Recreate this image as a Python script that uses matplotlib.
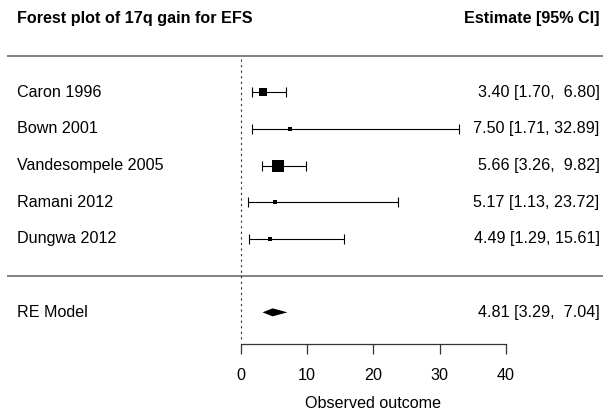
import matplotlib
matplotlib.use("Agg")
import matplotlib.pyplot as plt

plt.rcParams['font.family'] = ['Liberation Sans', 'DejaVu Sans']

# ---- data ----
studies = ["Caron 1996", "Bown 2001", "Vandesompele 2005", "Ramani 2012", "Dungwa 2012"]
est = [3.40, 7.50, 5.66, 5.17, 4.49]
lo = [1.70, 1.71, 3.26, 1.13, 1.29]
hi = [6.80, 32.89, 9.82, 23.72, 15.61]
re_label = "RE Model"
re_est, re_lo, re_hi = 4.81, 3.29, 7.04
xticks = [0, 10, 20, 30, 40]
title_left = "Forest plot of 17q gain for EFS"
title_right = "Estimate [95% CI]"
xlabel = "Observed outcome"

# ---- style ----
msizes = [6.3, 2.7, 8.2, 2.9, 3.2]
FS = 11.6

W, H = 603, 413
fig = plt.figure(figsize=(W / 100, H / 100), dpi=100)
ax = fig.add_axes([0, 0, 1, 1])

px_per_unit = (506 - 240.7) / 40.0
x0px = 240.7
ax.set_xlim(-x0px / px_per_unit, (W - x0px) / px_per_unit)
row_px = 36.675
def py(p):
    return 5 - (p - 92.3) / row_px
ax.set_ylim(py(H), py(0))

def px2x(p):
    return (p - x0px) / px_per_unit

ypos = [5, 4, 3, 2, 1]
for y, e, l, h, ms in zip(ypos, est, lo, hi, msizes):
    ax.errorbar([e], [y], xerr=[[e - l], [h - e]], fmt='none', ecolor='black',
                elinewidth=0.8, capsize=3.6, capthick=0.8)
    ax.plot([e], [y], marker='s', color='black', markersize=ms, markeredgewidth=0)

# RE diamond
dh = 4.0 / row_px
ax.fill([re_lo, re_est, re_hi, re_est], [-1, -1 + dh, -1, -1 - dh], color='black', lw=0)

# horizontal lines
xl = px2x(7)
xr = px2x(W + 5)
ax.plot([xl, xr], [6, 6], color='#606060', lw=1.1, solid_capstyle='butt')
ax.plot([xl, xr], [0, 0], color='#606060', lw=1.1, solid_capstyle='butt')

# vertical dotted reference line
ax.plot([0, 0], [py(59), py(341)], color='#333333', lw=0.8, linestyle=(0, (2.0, 3.0)))

# left labels & right estimates
xtext_l = px2x(17)
xtext_r = px2x(599.5)
for y, s, e, l, h in zip(ypos, studies, est, lo, hi):
    ax.text(xtext_l, y, s, ha='left', va='center', fontsize=FS)
    ax.text(xtext_r, y, f"{e:.2f} [{l:.2f}, {h:>5.2f}]".replace("[ ", "[").replace(",  ", ",  "),
            ha='right', va='center', fontsize=FS)
ax.text(xtext_l, -1, re_label, ha='left', va='center', fontsize=FS)
ax.text(xtext_r, -1, f"{re_est:.2f} [{re_lo:.2f}, {re_hi:>5.2f}]", ha='right', va='center', fontsize=FS)

# headers
ax.text(xtext_l, py(18), title_left, ha='left', va='center', fontsize=FS, fontweight='bold')
ax.text(xtext_r, py(18), title_right, ha='right', va='center', fontsize=FS, fontweight='bold')

# x axis
for s in ['top', 'right', 'left']:
    ax.spines[s].set_visible(False)
ax.spines['bottom'].set_position(('data', py(344.3)))
ax.spines['bottom'].set_bounds(0, 40)
ax.spines['bottom'].set_color('#333333')
ax.spines['bottom'].set_linewidth(0.9)
ax.set_yticks([])
ax.set_xticks(xticks)
ax.set_xticklabels([str(t) for t in xticks])
ax.tick_params(axis='x', direction='out', length=7, width=0.9, color='#333333',
               labelsize=FS, pad=10)
ax.text(20, py(403), xlabel, ha='center', va='center', fontsize=FS)

fig.savefig("out.png", dpi=100)
